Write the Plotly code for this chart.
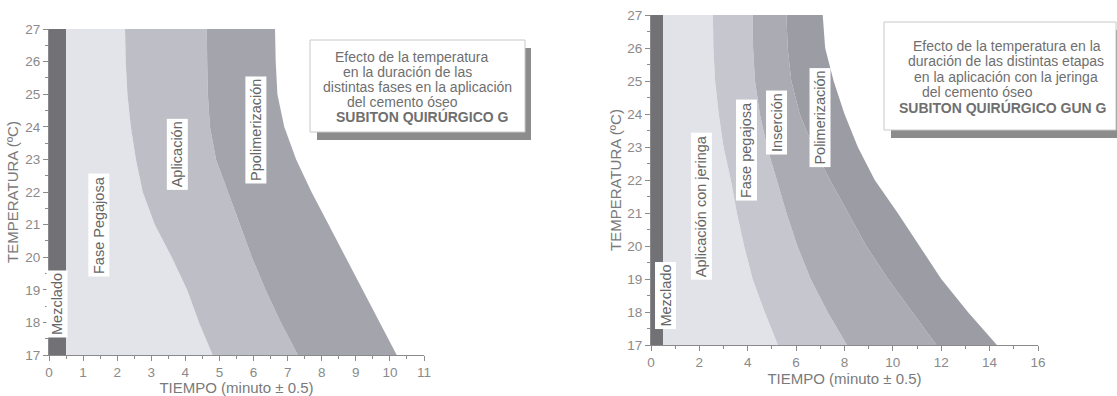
import plotly.graph_objects as go

W, H = 1117, 396

# ---------------- data ----------------
temps = [17, 18, 19, 20, 21, 22, 23, 24, 25, 26, 27]
mix_end = 0.5

# Left chart: SUBITON QUIRÚRGICO G  (x = minutes at each temperature)
left_pegajosa_end = [4.8, 4.4, 4.05, 3.6, 3.1, 2.75, 2.55, 2.4, 2.3, 2.25, 2.23]
left_aplicacion_end = [7.3, 6.8, 6.35, 5.95, 5.6, 5.25, 4.9, 4.72, 4.66, 4.64, 4.63]
left_polimer_end = [10.2, 9.7, 9.2, 8.7, 8.2, 7.7, 7.25, 6.9, 6.7, 6.65, 6.63]

# Right chart: SUBITON QUIRÚRGICO GUN G
right_jeringa_end = [5.25, 4.7, 4.2, 3.85, 3.55, 3.3, 3.0, 2.8, 2.65, 2.58, 2.56]
right_pegajosa_end = [8.1, 7.3, 6.6, 6.05, 5.6, 5.2, 4.8, 4.5, 4.3, 4.22, 4.2]
right_insercion_end = [11.8, 10.8, 9.8, 8.9, 8.15, 7.4, 6.7, 6.15, 5.8, 5.65, 5.6]
right_polimer_end = [14.3, 13.1, 12.0, 11.1, 10.2, 9.25, 8.55, 8.0, 7.55, 7.2, 7.1]

left_labels = ["Mezclado", "Fase Pegajosa", "Aplicación", "Ppolimerización"]
right_labels = ["Mezclado", "Aplicación con jeringa", "Fase pegajosa", "Inserción", "Polimerización"]

left_box_lines = ["Efecto de la temperatura", "en la duración de las",
                  "distintas fases en la aplicación", "del cemento óseo",
                  "<b>SUBITON QUIRÚRGICO G</b>"]
right_box_lines = ["Efecto de la temperatura en la", "duración de las distintas etapas",
                   "en la aplicación con la jeringa", "del cemento óseo",
                   "<b>SUBITON QUIRÚRGICO GUN G</b>"]

FONT = "Liberation Sans, Arial, sans-serif"
GRAY_TXT = "#7a7a7a"
AX = "#8a8a8a"


def px(x):
    return x / W


def py(y):
    return 1 - y / H


fig = go.Figure()


def band(xa, xb, color, xref, yref):
    xs = list(xa) + list(xb)[::-1]
    ys = temps + temps[::-1]
    fig.add_trace(go.Scatter(x=xs, y=ys, fill="toself", fillcolor=color,
                             mode="lines", line=dict(width=0), hoverinfo="skip",
                             showlegend=False, xaxis=xref, yaxis=yref))


mix = [mix_end] * len(temps)
zero = [0] * len(temps)
# left bands
band(zero, mix, "#717176", "x", "y")
band(mix, left_pegajosa_end, "#e3e3ea", "x", "y")
band(left_pegajosa_end, left_aplicacion_end, "#bebec7", "x", "y")
band(left_aplicacion_end, left_polimer_end, "#a4a4ad", "x", "y")
# right bands
band(zero, mix, "#717176", "x2", "y2")
band(mix, right_jeringa_end, "#e2e2e9", "x2", "y2")
band(right_jeringa_end, right_pegajosa_end, "#c6c6ce", "x2", "y2")
band(right_pegajosa_end, right_insercion_end, "#ababb3", "x2", "y2")
band(right_insercion_end, right_polimer_end, "#9c9ca4", "x2", "y2")

annotations = []


def vlabel(text, x, y, xref, yref):
    annotations.append(dict(text=text, x=x, y=y, xref=xref, yref=yref,
                            textangle=-90, showarrow=False, bgcolor="white",
                            borderpad=2, font=dict(family=FONT, size=14.5, color="#666666")))


left_pos = [(0.25, 18.55), (1.45, 21.0), (3.75, 23.15), (6.07, 23.9)]
for t, (x, y) in zip(left_labels, left_pos):
    vlabel(t, x, y, "x", "y")
right_pos = [(0.58, 18.5), (2.1, 21.2), (3.96, 22.9), (5.2, 23.75), (7.0, 23.9)]
for t, (x, y) in zip(right_labels, right_pos):
    vlabel(t, x, y, "x2", "y2")

shapes = []


def textbox(x0, y0, x1, y1, lines, centers, ys, size):
    shapes.append(dict(type="rect", xref="paper", yref="paper",
                       x0=px(x0 + 7), x1=px(min(x1 + 6, W)), y0=py(y1 + 8), y1=py(y0 + 8),
                       fillcolor="#8c8c8c", line=dict(width=0), layer="above"))
    shapes.append(dict(type="rect", xref="paper", yref="paper",
                       x0=px(x0), x1=px(x1), y0=py(y1), y1=py(y0),
                       fillcolor="white", line=dict(color="#c8c8c8", width=1), layer="above"))
    for t, cx, cy in zip(lines, centers, ys):
        annotations.append(dict(text=t, x=px(cx), y=py(cy), xref="paper", yref="paper",
                                showarrow=False, xanchor="center", yanchor="middle",
                                font=dict(family=FONT, size=size, color="#6f6f6f")))


textbox(310, 40, 525, 132, left_box_lines, [412, 407, 417, 402, 422], [57, 72, 87, 102, 117], 14)
textbox(884, 22, 1116, 130, right_box_lines, [1007, 1006, 1006, 977, 1003], [46, 61.5, 77, 92.5, 108], 14)

axis_common = dict(showline=True, linecolor=AX, linewidth=1, ticks="outside",
                   ticklen=5, tickcolor=AX, showgrid=False, zeroline=False,
                   tickfont=dict(family=FONT, size=13.5, color=AX), automargin=False,
                   ticklabeloverflow="allow",
                   title_font=dict(family=FONT, size=15, color=GRAY_TXT))

fig.update_layout(
    width=W, height=H, margin=dict(l=0, r=0, t=0, b=0),
    paper_bgcolor="white", plot_bgcolor="white",
    xaxis=dict(domain=[px(49), px(424)], range=[0, 11], dtick=1, anchor="y",
               minor=dict(dtick=0.5, ticks="outside", ticklen=3, tickcolor=AX),
               title=dict(text="TIEMPO (minuto ± 0.5)", standoff=2), **axis_common),
    yaxis=dict(domain=[py(355), py(29)], range=[17, 27], dtick=1, anchor="x",
               minor=dict(dtick=0.5, ticks="outside", ticklen=3, tickcolor=AX),
               title=dict(text="TEMPERATURA (ºC)", standoff=3), **axis_common),
    xaxis2=dict(domain=[px(651), px(1038)], range=[0, 16], dtick=2, anchor="y2",
                minor=dict(dtick=1, ticks="outside", ticklen=3, tickcolor=AX),
                title=dict(text="TIEMPO (minuto ± 0.5)", standoff=4), **axis_common),
    yaxis2=dict(domain=[py(345), py(15)], range=[17, 27], dtick=1, anchor="x2",
                minor=dict(dtick=0.5, ticks="outside", ticklen=3, tickcolor=AX),
                title=dict(text="TEMPERATURA (ºC)", standoff=2), **axis_common),
    annotations=annotations, shapes=shapes,
)

fig.write_html("out.html", config={"displayModeBar": False},
               post_script="document.body.style.margin='0';document.body.style.overflow='hidden';")
